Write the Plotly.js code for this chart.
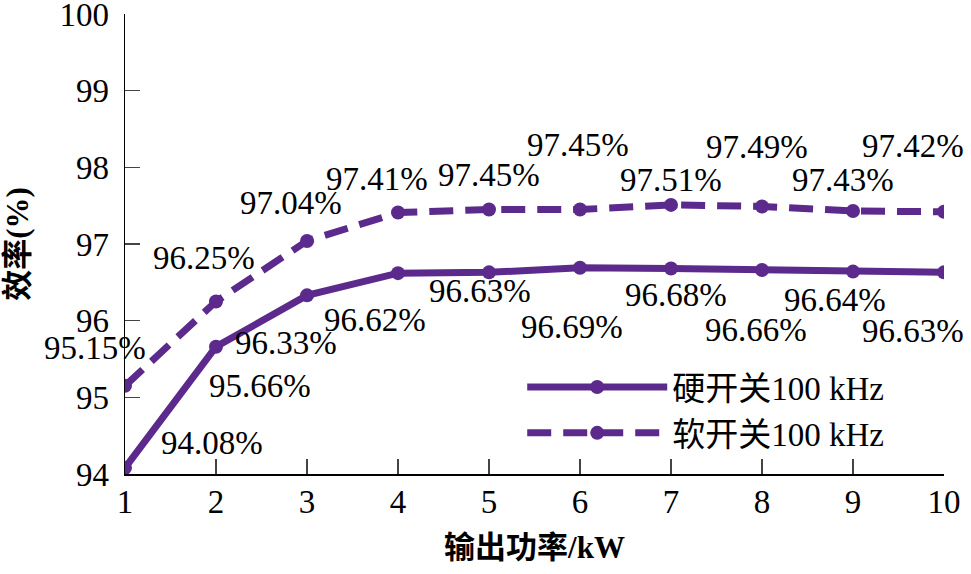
<!DOCTYPE html>
<html>
<head>
<meta charset="utf-8">
<script src="https://cdn.plot.ly/plotly-3.0.1.min.js"></script>
<style>html,body{margin:0;padding:0;background:#fff;}#chart{width:971px;height:574px;}</style>
</head>
<body>
<div id="chart"></div>
<script>
const powerKW = [1, 2, 3, 4, 5, 6, 7, 8, 9, 10];
const hardSwitch = [94.08, 95.66, 96.33, 96.62, 96.63, 96.69, 96.68, 96.66, 96.64, 96.63];
const softSwitch = [95.15, 96.25, 97.04, 97.41, 97.45, 97.45, 97.51, 97.49, 97.43, 97.42];
const seriesNames = ['硬开关100 kHz', '软开关100 kHz'];
const xTicks = [1, 2, 3, 4, 5, 6, 7, 8, 9, 10];
const yTicks = [94, 95, 96, 97, 98, 99, 100];

// label offsets in px (dx right, dy up)
const hardOffsets = [[87,25],[44,-39],[-21,-48],[-23,-47],[-9,-19],[-8,-59],[5,-26],[-6,-60],[-18,-28],[-31,-59]];
const softOffsets = [[-30,38],[-12,44],[-16,38],[-21,34],[0,35],[-2,65],[0,25],[-5,59],[-10,31],[-31,66]];

const purple = '#5c2a8c';
const serif = 'Liberation Serif, Times New Roman, Noto Sans CJK SC, serif';
const fs = 33;

const traces = [
  {x: powerKW, y: hardSwitch, name: seriesNames[0], type: 'scatter', mode: 'lines+markers',
   line: {color: purple, width: 7}, marker: {color: purple, size: 14}},
  {x: powerKW, y: softSwitch, name: seriesNames[1], type: 'scatter', mode: 'lines+markers',
   line: {color: purple, width: 7, dash: '24px,12px'}, marker: {color: purple, size: 14}}
];

const annotations = [];
function addLabels(vals, offs) {
  vals.forEach((v, i) => {
    annotations.push({x: powerKW[i], y: v, xref: 'x', yref: 'y', text: v.toFixed(2) + '%',
      showarrow: false, xanchor: 'center', yanchor: 'middle',
      xshift: offs[i][0], yshift: offs[i][1], font: {family: serif, size: fs, color: '#000'}});
  });
}
addLabels(hardSwitch, hardOffsets);
addLabels(softSwitch, softOffsets);

const layout = {
  width: 971, height: 574,
  margin: {l: 125, r: 27, t: 14, b: 100},
  paper_bgcolor: '#fff', plot_bgcolor: '#fff',
  font: {family: serif, size: fs, color: '#000'},
  showlegend: true,
  legend: {x: 0.485, y: 0.25, xanchor: 'left', yanchor: 'top', bgcolor: 'rgba(0,0,0,0)',
           itemwidth: 140, font: {family: serif, size: fs, color: '#000'}, tracegroupgap: 0},
  xaxis: {range: [1, 10], tickvals: xTicks, ticks: 'inside', ticklen: 15, tickwidth: 1.5,
          showline: true, linewidth: 1.5, linecolor: '#000', showgrid: false, zeroline: false,
          mirror: false, ticklabelstandoff: -2, ticklabeloverflow: 'allow',
          tickfont: {family: serif, size: fs},
          title: {text: '<b>输出功率/kW</b>', standoff: 17,
                  font: {family: serif, size: 31}}},
  yaxis: {range: [94, 100], tickvals: yTicks, ticks: 'inside', ticklen: 15, tickwidth: 1.5,
          showline: true, linewidth: 1.5, linecolor: '#000', showgrid: false, zeroline: false,
          ticklabelstandoff: 8, ticklabeloverflow: 'allow',
          tickfont: {family: serif, size: fs},
          title: {text: '<b>效率(%)</b>', standoff: 36,
                  font: {family: serif, size: 31}}},
  annotations: annotations
};

Plotly.newPlot('chart', traces, layout, {displayModeBar: false, staticPlot: true});
</script>
</body>
</html>
